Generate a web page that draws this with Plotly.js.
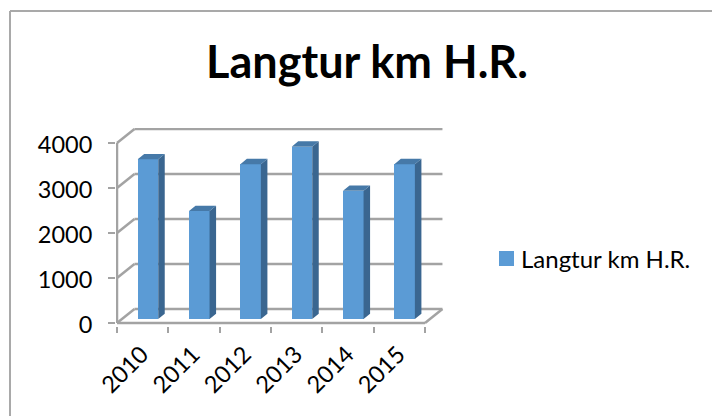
<!DOCTYPE html>
<html>
<head>
<meta charset="utf-8">
<script src="https://cdn.plot.ly/plotly-3.0.1.min.js"></script>
<style>html,body{margin:0;padding:0;background:#fff;overflow:hidden}#chart{width:712px;height:416px}</style>
</head>
<body>
<div id="chart"></div>
<script>
const seriesName = "Langtur km H.R.";
const years = ["2010", "2011", "2012", "2013", "2014", "2015"];
const kmValues = [3550, 2400, 3440, 3830, 2850, 3440];
const gridValues = [0, 1000, 2000, 3000, 4000];

// Pseudo-3D projection, in axis units
const floorBase = 89, barWidth = 0.4, barOffset = -0.097;
const barDepthX = 0.127, barDepthY = 118;
const wallDepthX = 0.34, wallDepthY = 311;
const xLeft = -0.5, xRight = 5.5;
const xRange = [-0.5195, 5.87], yRange = [-66.7, 4333];

const positions = years.map((_, i) => i);
const boundaries = [0, 1, 2, 3, 4, 5, 6].map(i => i - 0.5);

const sideX = [], sideY = [], topX = [], topY = [];
positions.forEach((p, i) => {
  const x0 = p + barOffset, x1 = x0 + barWidth, top = floorBase + kmValues[i];
  sideX.push(x1, x1, x1 + barDepthX, x1 + barDepthX, x1, null);
  sideY.push(floorBase, top, top + barDepthY, floorBase + barDepthY, floorBase, null);
  topX.push(x0, x1, x1 + barDepthX, x0 + barDepthX, x0, null);
  topY.push(top, top, top + barDepthY, top + barDepthY, top, null);
});

const wallColor = "#a3a3a3";
const seg = (x0, y0, x1, y1) => ({type: "line", xref: "x", yref: "y", x0, y0, x1, y1, layer: "below",
  line: {color: wallColor, width: 2.5}});
const shapes = [];
gridValues.forEach(v => {
  shapes.push(seg(xLeft, v, xLeft + wallDepthX, v + wallDepthY));
  shapes.push(seg(xLeft + wallDepthX, v + wallDepthY, xRight + wallDepthX, v + wallDepthY));
});
shapes.push(seg(xLeft, 0, xLeft, 4000));
shapes.push(seg(xLeft, 0, xRight, 0));
shapes.push(seg(xRight, 0, xRight + wallDepthX, wallDepthY));

// Chart-area frame (left and top edges only are in view)
const plotL = 116, plotR = 444, plotT = 128, plotB = 326;
const px = x => (x - plotL) / (plotR - plotL), py = y => (plotB - y) / (plotB - plotT);
[[10, 11, 712, 11], [10, 11, 10, 416]].forEach(([a, b, c, d]) => shapes.push({
  type: "line", xref: "paper", yref: "paper", x0: px(a), y0: py(b), x1: px(c), y1: py(d),
  line: {color: "#a9a9a9", width: 2}}));

const data = [
  {type: "bar", name: seriesName, x: positions, y: kmValues, base: floorBase, width: barWidth, offset: barOffset,
   marker: {color: "#5b9bd5", line: {width: 0}}, hoverinfo: "x+y"},
  {type: "scatter", x: sideX, y: sideY, mode: "lines", fill: "toself", fillcolor: "#3a6690",
   line: {width: 0, color: "#3a6690"}, showlegend: false, hoverinfo: "skip"},
  {type: "scatter", x: topX, y: topY, mode: "lines", fill: "toself", fillcolor: "#4679a8",
   line: {width: 0, color: "#4679a8"}, showlegend: false, hoverinfo: "skip"},
  {type: "scatter", xaxis: "x2", x: boundaries, y: boundaries.map(() => 0), mode: "markers",
   marker: {opacity: 0}, showlegend: false, hoverinfo: "skip"}
];

const font = "Lato, 'Open Sans', sans-serif";
const layout = {
  width: 712, height: 416,
  margin: {l: plotL, r: 712 - plotR, t: plotT, b: 416 - plotB, pad: 0},
  paper_bgcolor: "#fff", plot_bgcolor: "rgba(0,0,0,0)",
  font: {family: font, color: "#000", size: 20},
  title: {text: "<b>" + seriesName + "</b>", font: {family: font, size: 45, color: "#000"},
          x: 367 / 712, xref: "container", xanchor: "center", y: 1 - 62 / 416, yref: "container", yanchor: "middle"},
  bargap: 0,
  showlegend: true,
  legend: {x: px(481), xanchor: "left", y: py(259), yanchor: "middle", font: {size: 24, family: font},
           bgcolor: "rgba(0,0,0,0)", borderwidth: 0, itemclick: false, itemdoubleclick: false},
  xaxis: {type: "linear", range: xRange, tickmode: "array", tickvals: positions, ticktext: years,
          tickangle: -45, ticks: "", showgrid: false, zeroline: false, showline: false,
          tickfont: {family: font, size: 23.5}, ticklabelstandoff: 9, ticklabelshift: -1},
  xaxis2: {type: "linear", overlaying: "x", anchor: "y", side: "bottom", range: xRange, tickmode: "array",
           tickvals: boundaries, ticks: "outside", ticklen: 6, tickwidth: 2, tickcolor: wallColor,
           showticklabels: false, showgrid: false, zeroline: false, showline: false},
  yaxis: {range: yRange, tickmode: "array", tickvals: gridValues, ticks: "outside", ticklen: 7, tickwidth: 2,
          tickcolor: wallColor, showgrid: false, zeroline: false, showline: false,
          tickfont: {family: font, size: 23.5}, ticklabelstandoff: 11, ticklabelshift: 2},
  shapes
};

Plotly.newPlot("chart", data, layout, {displayModeBar: false, responsive: false}).then(gd => {
  gd.querySelectorAll(".legend .legendbar path, .legend .legendpoints path").forEach(p => {
    p.setAttribute("d", "M13,7.5H-2V-7.5H13z");
  });
});
</script>
</body>
</html>
